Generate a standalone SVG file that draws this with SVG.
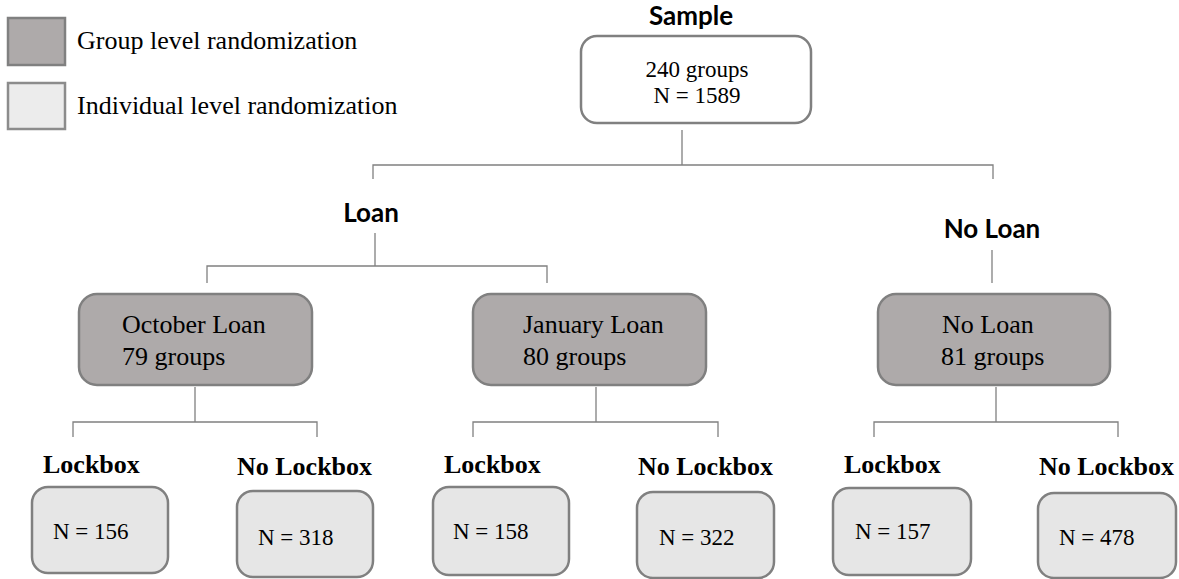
<svg xmlns="http://www.w3.org/2000/svg" width="1179" height="579" viewBox="0 0 1179 579">
<style>
.grp{fill:#aeaaaa;stroke:#808080;stroke-width:2.5}
.ind{fill:#e6e6e6;stroke:#808080;stroke-width:2.5}
.top{fill:#ffffff;stroke:#808080;stroke-width:2.5}
.serif{font-family:"Liberation Serif","Times New Roman","DejaVu Serif",serif;fill:#000}
.big{font-size:26px}
.mid{font-size:23px}
.bold{font-weight:bold;font-size:26px}
.head{font-family:Lato,"Open Sans","Liberation Sans",sans-serif;font-weight:bold;font-size:26px;fill:#000}
.conn{fill:none;stroke:#808080;stroke-width:1.3}
</style>
<rect width="1179" height="579" fill="#ffffff"/>
<g id="legend">
<rect x="8" y="18" width="57" height="47" fill="#aeaaaa" stroke="#808080" stroke-width="2.5"/>
<text x="77" y="49" class="serif big">Group level randomization</text>
<rect x="8" y="83" width="57" height="46" fill="#ececec" stroke="#8c8c8c" stroke-width="2.5"/>
<text x="77" y="114" class="serif big">Individual level randomization</text>
</g>
<g id="connectors">
<path class="conn" d="M682 130 V165 M373 179 V165 H993 V179"/>
<path class="conn" d="M375 233 V266 M207 283 V266 H547 V283"/>
<path class="conn" d="M992 250 V283"/>
<path class="conn" d="M195 387 V422 M73 437 V422 H317 V437"/>
<path class="conn" d="M596 387 V422 M473 437 V422 H718 V437"/>
<path class="conn" d="M996 387 V422 M874 437 V422 H1118 V437"/>
</g>
<g id="sample">
<text x="691" y="25" class="head" text-anchor="middle">Sample</text>
<rect x="581" y="36" width="230" height="87" rx="16" class="top"/>
<text x="697" y="77" class="serif mid" text-anchor="middle">240 groups</text>
<text x="697" y="103" class="serif mid" text-anchor="middle">N = 1589</text>
</g>
<g id="loan-label">
<text x="371" y="222" class="head" text-anchor="middle">Loan</text>
</g>
<g id="noloan-label">
<text x="992" y="238" class="head" text-anchor="middle">No Loan</text>
</g>
<g id="october">
<rect x="79" y="294" width="233" height="91" rx="18" class="grp"/>
<text x="122" y="333" class="serif big">October Loan</text>
<text x="122" y="365" class="serif big">79 groups</text>
</g>
<g id="january">
<rect x="473" y="294" width="233" height="91" rx="18" class="grp"/>
<text x="523" y="333" class="serif big">January Loan</text>
<text x="523" y="365" class="serif big">80 groups</text>
</g>
<g id="noloan">
<rect x="878" y="294" width="232" height="91" rx="18" class="grp"/>
<text x="942" y="333" class="serif big">No Loan</text>
<text x="941" y="365" class="serif big">81 groups</text>
</g>
<g id="oct-lockbox">
<text x="43" y="473" class="serif bold">Lockbox</text>
<rect x="32" y="487" width="136" height="86" rx="16" class="ind"/>
<text x="53" y="539" class="serif mid">N = 156</text>
</g>
<g id="oct-nolockbox">
<text x="237" y="475" class="serif bold">No Lockbox</text>
<rect x="237" y="491" width="136" height="86" rx="16" class="ind"/>
<text x="258" y="545" class="serif mid">N = 318</text>
</g>
<g id="jan-lockbox">
<text x="444" y="473" class="serif bold">Lockbox</text>
<rect x="433" y="487" width="136" height="88" rx="16" class="ind"/>
<text x="453" y="539" class="serif mid">N = 158</text>
</g>
<g id="jan-nolockbox">
<text x="638" y="475" class="serif bold">No Lockbox</text>
<rect x="637" y="492" width="137" height="86" rx="16" class="ind"/>
<text x="659" y="545" class="serif mid">N = 322</text>
</g>
<g id="no-lockbox-lb">
<text x="844" y="473" class="serif bold">Lockbox</text>
<rect x="833" y="488" width="138" height="87" rx="16" class="ind"/>
<text x="855" y="539" class="serif mid">N = 157</text>
</g>
<g id="no-nolockbox">
<text x="1039" y="475" class="serif bold">No Lockbox</text>
<rect x="1038" y="493" width="138" height="85" rx="16" class="ind"/>
<text x="1059" y="545" class="serif mid">N = 478</text>
</g>
</svg>
